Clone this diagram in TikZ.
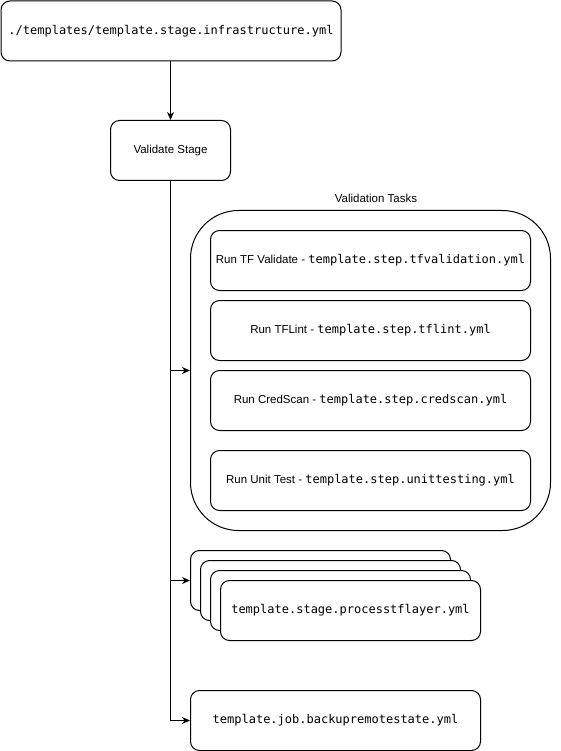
\documentclass[tikz,border=0pt]{standalone}
\usepackage{fontspec}
\setmainfont{Liberation Sans}
\setmonofont{DejaVu Sans Mono}
\usetikzlibrary{arrows.meta,positioning}

\begin{document}
\begin{tikzpicture}[x=1pt, y=-1pt,
  box/.style={draw, line width=1pt, fill=white, rounded corners=9pt, inner sep=0pt,
    anchor=north west, font=\fontsize{11.5}{14}\selectfont},
  stepbox/.style={box, minimum width=320pt, minimum height=60pt},
  layerbox/.style={box, minimum width=260pt, minimum height=60pt},
  flow/.style={line width=1pt, -{Stealth[length=8pt, width=7pt, inset=2.5pt]}}]
  \useasboundingbox (0,0) rectangle (561,751);
  \newcommand{\yml}[1]{{\fontsize{12}{14}\selectfont\ttfamily #1}}
  % pipeline entry and stage
  \node[box, minimum width=340pt, minimum height=60pt] (infra) at (0.5,0.5)
    {\yml{./templates/template.stage.infrastructure.yml}};
  \node[box, minimum width=120pt, minimum height=60pt] (validate) at (110,120) {Validate Stage};
  % validation tasks group
  \node[font=\fontsize{11.5}{14}\selectfont] (taskslabel) at (376,198) {Validation Tasks};
  \node[box, rounded corners=48pt, minimum width=360pt, minimum height=320pt] (tasks) at (190,210) {};
  \node[stepbox] (tfvalidate) at (210,230) {Run TF Validate - \yml{template.step.tfvalidation.yml}};
  \node[stepbox] (tflint) at (210,300) {Run TFLint - \yml{template.step.tflint.yml}};
  \node[stepbox] (credscan) at (210,370) {Run CredScan - \yml{template.step.credscan.yml}};
  \node[stepbox] (unittest) at (210,450) {Run Unit Test - \yml{template.step.unittesting.yml}};
  % stacked layer stages
  \node[layerbox] (layera) at (190,550) {};
  \node[layerbox] (layerb) at (200,560) {};
  \node[layerbox] (layerc) at (210,570) {};
  \node[layerbox] (layerd) at (220,580) {\yml{template.stage.processtflayer.yml}};
  % backup job
  \node[box, minimum width=290pt, minimum height=60pt] (backup) at (190,690)
    {\yml{template.job.backupremotestate.yml}};
  % connectors
  \draw[flow] (infra.south -| validate.north) -- (validate.north);
  \draw[flow] (validate.south) |- (tasks.west);
  \draw[flow] (validate.south) |- (layera.west);
  \draw[flow] (validate.south) |- (backup.west);
\end{tikzpicture}
\end{document}
